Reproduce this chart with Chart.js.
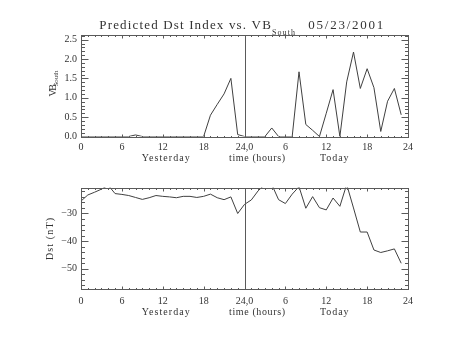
<!DOCTYPE html>
<html><head><meta charset="utf-8">
<script src="https://cdn.jsdelivr.net/npm/chart.js@4.4.0/dist/chart.umd.min.js"></script>
<style>
html,body{margin:0;padding:0;background:#fff;width:454px;height:341px;overflow:hidden}
canvas{position:absolute;left:0;top:0}
</style></head><body>
<canvas id="c1" width="454" height="341"></canvas>
<canvas id="c2" width="454" height="341"></canvas>
<script>
// ---- data ----
const hours = [0,1,2,3,4,5,6,7,8,9,10,11,12,13,14,15,16,17,18,19,20,21,22,23,
               24,25,26,27,28,29,30,31,32,33,34,35,36,37,38,39,40,41,42,43,44,45,46,47];
const vbSouth = [0,0,0,0,0,0,0,0,0.04,0,0,0,0,0,0,0,0,0,0,0.55,0.83,1.1,1.5,0.05,
                 0,0,0,0,0.22,0,0,0,1.67,0.31,0.16,0,0.6,1.21,0,1.41,2.18,1.24,1.75,1.26,0.13,0.91,1.24,0.56];
const dst = [-25.5,-23.3,-22.3,-21.2,-19.8,-22.8,-23.1,-23.5,-24.2,-24.9,-24.3,-23.5,
             -23.8,-24.0,-24.3,-23.8,-23.8,-24.2,-23.8,-23.0,-24.3,-25.0,-24.0,-30.0,
             -26.7,-25.1,-21.8,-19.5,-19.5,-25.0,-26.4,-23.0,-20.3,-28.1,-23.9,-27.9,
             -28.7,-24.4,-27.4,-19.5,-28.0,-36.7,-36.7,-43.2,-44.1,-43.5,-42.8,-48.0];
const xTickValues = [0,6,12,18,24,30,36,42,48];
const xTickLabels = ['0','6','12','18','24,0','6','12','18','24'];
const vbTickValues = [0,0.5,1,1.5,2,2.5];
const vbTickLabels = ['0.0','0.5','1.0','1.5','2.0','2.5'];
const dstTickValues = [-50,-40,-30];
const dstTickLabels = ['\u221250','\u221240','\u221230'];
const titleMain = 'Predicted Dst Index vs. VB';
const titleSub = 'South';
const titleDate = '05/23/2001';
const xTitleLeft = 'Yesterday', xTitleMid = 'time (hours)', xTitleRight = 'Today';
const yTitleTop = 'VB', yTitleTopSub = 'South';
const yTitleBottom = 'Dst (nT)';

// ---- style ----
const SERIF = '"Liberation Serif", "DejaVu Serif", serif';
const INK = '#404040';
const AXIS = '#5a5a5a';
const TXT = '#333';

function fitText(ctx, text, x, y, w, size) {
  ctx.font = size + 'px ' + SERIF;
  ctx.letterSpacing = '0px';
  const m = ctx.measureText(text).width;
  const n = Math.max(1, text.length - 1);
  let sp = (w - m) / n;
  sp = Math.max(-1.5, Math.min(3, sp));
  ctx.letterSpacing = sp + 'px';
  ctx.textAlign = 'left';
  ctx.fillText(text, x, y);
  ctx.letterSpacing = '0px';
}

function seg(ctx, x1, y1, x2, y2) {
  ctx.beginPath(); ctx.moveTo(x1, y1); ctx.lineTo(x2, y2); ctx.stroke();
}

const deco = {
  id: 'deco',
  afterDatasetsDraw(chart, args, o) {
    const {ctx, chartArea: a, scales: {x, y}} = chart;
    ctx.save();
    ctx.strokeStyle = AXIS; ctx.lineWidth = 1;
    const L = Math.round(a.left) + 0.5, R = Math.round(a.right) + 0.5;
    const T = Math.round(a.top) + 0.5, B = Math.round(a.bottom) + 0.5;
    ctx.strokeRect(L, T, R - L, B - T);
    const vx = Math.round(x.getPixelForValue(24)) + 0.5;
    seg(ctx, vx, T, vx, B);
    for (let h = 0; h <= 48; h++) {
      const px = Math.round(x.getPixelForValue(h)) + 0.5;
      const len = h % 6 === 0 ? 3 : 1.5;
      seg(ctx, px, B, px, B - len);
      seg(ctx, px, T, px, T + len);
    }
    for (let k = o.kMin; k <= o.kMax; k++) {
      const v = k * o.minor;
      const py = Math.round(y.getPixelForValue(v)) + 0.5;
      if (py < T || py > B) continue;
      const len = (k % o.per === 0) ? 7 : 3.5;
      seg(ctx, L, py, L + len, py);
      seg(ctx, R, py, R - len, py);
    }
    ctx.restore();
  },
  afterDraw(chart, args, o) {
    const {ctx, chartArea: a} = chart;
    ctx.save();
    ctx.fillStyle = TXT;
    ctx.textBaseline = 'alphabetic';
    const base = a.bottom + o.titleGap;
    fitText(ctx, xTitleLeft, 141.7, base, 48, 10);
    fitText(ctx, xTitleMid, 229, base, 56, 10);
    fitText(ctx, xTitleRight, 320, base, 28.5, 10);
    if (o.top) {
      fitText(ctx, titleMain, 99.3, 29, 171.5, 13);
      fitText(ctx, titleSub, 272, 35, 23, 8);
      fitText(ctx, titleDate, 308.3, 29, 75, 13);
      ctx.save();
      ctx.translate(55.5, 96.5);
      ctx.rotate(-Math.PI / 2);
      fitText(ctx, yTitleTop, 0, 0, 9.5, 10);
      ctx.restore();
      ctx.save();
      ctx.translate(57.5, 86.5);
      ctx.rotate(-Math.PI / 2);
      fitText(ctx, yTitleTopSub, 0, 0, 16, 7);
      ctx.restore();
    } else {
      ctx.save();
      ctx.translate(53, 260);
      ctx.rotate(-Math.PI / 2);
      fitText(ctx, yTitleBottom, 0, 0, 42, 10);
      ctx.restore();
    }
    ctx.restore();
  }
};

function makeChart(id, values, yMin, yMax, yStep, yVals, yLabels, padTop, padBottom, xPad, decoOpts) {
  return new Chart(document.getElementById(id), {
    type: 'line',
    data: {
      datasets: [{
        data: hours.map((h, i) => ({x: h, y: values[i]})),
        borderColor: INK, borderWidth: 1, pointRadius: 0, tension: 0, fill: false
      }]
    },
    options: {
      responsive: false, animation: false, devicePixelRatio: 1,
      layout: {padding: {left: 0, right: 46, top: padTop, bottom: padBottom}},
      plugins: {legend: {display: false}, tooltip: {enabled: false}, deco: decoOpts},
      scales: {
        x: {
          type: 'linear', min: 0, max: 48,
          afterFit: s => { s.height = 30; },
          grid: {display: false, drawTicks: false}, border: {display: false},
          ticks: {
            stepSize: 6, autoSkip: false, maxRotation: 0, padding: xPad, color: TXT,
            font: {family: SERIF, size: 10},
            callback: v => { const i = xTickValues.indexOf(v); return i < 0 ? '' : xTickLabels[i]; }
          }
        },
        y: {
          type: 'linear', min: yMin, max: yMax,
          afterFit: s => { s.width = 81; },
          grid: {display: false, drawTicks: false}, border: {display: false},
          ticks: {
            stepSize: yStep, includeBounds: false, padding: 4, color: TXT,
            font: {family: SERIF, size: 10},
            callback: v => { const i = yVals.findIndex(t => Math.abs(t - v) < 1e-6); return i < 0 ? '' : yLabels[i]; }
          }
        }
      }
    },
    plugins: [deco]
  });
}

makeChart('c1', vbSouth, 0, 2.62, 0.5, vbTickValues, vbTickLabels, 35, 341 - 136.5 - 30, 4.5,
  {top: true, minor: 0.1, kMin: 0, kMax: 26, per: 5, titleGap: 24.2});
makeChart('c2', dst, -57.3, -20.6, 10, dstTickValues, dstTickLabels, 187.5, 341 - 289 - 30, 6.5,
  {top: false, minor: 2, kMin: -28, kMax: -10, per: 5, titleGap: 25.5});
</script>
</body></html>
